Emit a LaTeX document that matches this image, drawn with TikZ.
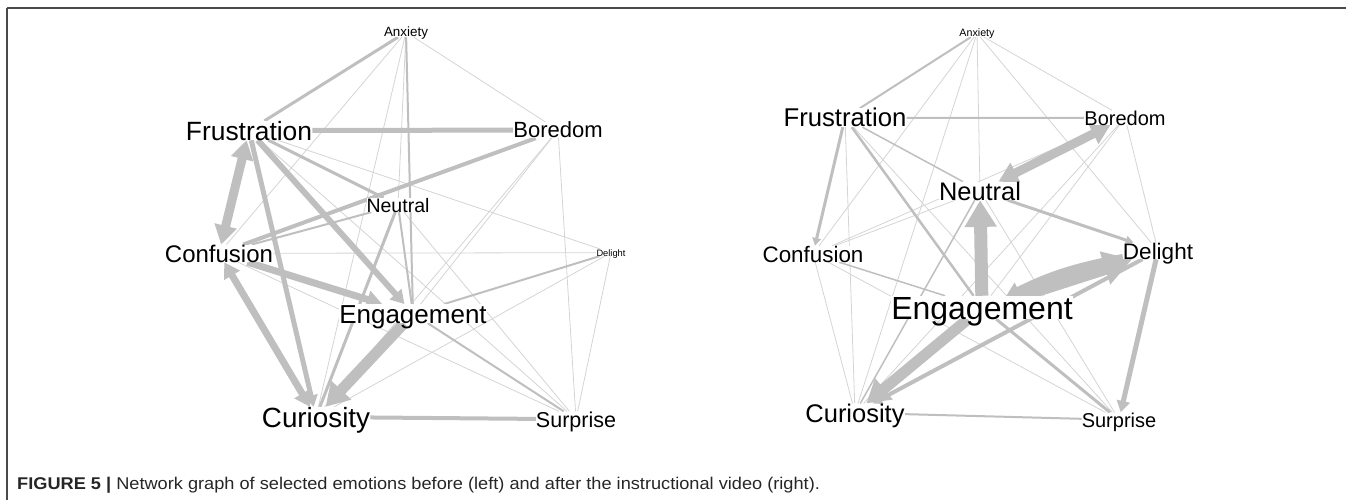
\documentclass[tikz,border=0pt]{standalone}
\usepackage{fontspec}
\setmainfont{Liberation Sans}
\newfontfamily\capfont[FakeStretch=1.07]{Liberation Sans}
\usetikzlibrary{arrows.meta}
\definecolor{linkgray}{HTML}{BFBFBF}
\definecolor{faintgray}{HTML}{D4D4D4}
\definecolor{framegray}{HTML}{4A4A4A}
\pgfdeclarelayer{back}
\pgfsetlayers{back,main}
\tikzset{
  emo/.style={font=\fontsize{#1}{#1}\selectfont, inner sep=0pt, anchor=base, fill=white,
    text height=\the\dimexpr #1pt*72/100\relax, text depth=0pt},
  link/.style={draw=linkgray, line width=#1},
  faint/.style={draw=faintgray, line width=0.8},
  headed/.style={-{Triangle[length=2pt 1.9, width=2pt 2.2]}},
  twohead/.style={{Triangle[length=2pt 1.9, width=2pt 2.2]}-{Triangle[length=2pt 1.9, width=2pt 2.2]}},
}

\begin{document}
\begin{tikzpicture}[x=1pt, y=-1pt]
\useasboundingbox (0,0) rectangle (1346,500);
\draw[framegray, line width=1.5](7,8) -- (1346,8);
\draw[framegray, line width=1.5](7,8) -- (7,500);

% before the video
\node[emo=13.4] (lan) at (406,37) {Anxiety};
\node[emo=26.4] (lfr) at (249,140) {Frustration};
\node[emo=22] (lbo) at (558,138) {Boredom};
\node[emo=19.5] (lne) at (398,212) {Neutral};
\node[emo=24] (lco) at (219,262) {Confusion};
\node[emo=9.3] (lde) at (611,256) {Delight};
\node[emo=26] (len) at (413,323) {Engagement};
\node[emo=27.8] (lcu) at (316,427) {Curiosity};
\node[emo=21.5] (lsu) at (576,427) {Surprise};

\begin{pgfonlayer}{back}
\draw[faint] (lan) -- (lco);
\draw[faint] (lan) -- (lcu);
\draw[faint] (lan) -- (lbo);
\draw[faint] (lan) -- (lne);
\draw[faint] (lfr) -- (lde);
\draw[faint] (lfr) -- (lsu);
\draw[faint] (lbo) -- (len);
\draw[faint] (lbo) -- (lcu);
\draw[faint] (lbo) -- (lsu);
\draw[faint] (lne) -- (lsu);
\draw[faint] (lco) -- (lde);
\draw[faint] (lco) -- (lsu);
\draw[faint] (lcu) -- (lde);
\draw[faint] (lsu) -- (lde);
\draw[link=3] (lan) -- (lfr);
\draw[link=2] (lan) -- (len);
\draw[link=5] (lfr) -- (lbo);
\draw[link=3] (lfr) -- (lne);
\draw[link=4] (lbo) -- (lco);
\draw[link=2] (lne) -- (lco);
\draw[link=3] (lne) -- (lcu);
\draw[link=2] (lne) -- (len);
\draw[link=2] (len) -- (lde);
\draw[link=2] (len) -- (lsu);
\draw[link=4] (lcu) -- (lsu);
\draw[link=9, twohead] (lfr) -- (lco);
\draw[link=5, headed] (lfr) -- (lcu);
\draw[link=6, headed] (lfr) -- (len);
\draw[link=7, headed] (lco) -- (len);
\draw[link=7, twohead] (lco) -- (lcu);
\draw[link=11, headed] (len) -- (lcu);
\end{pgfonlayer}

% after the video
\node[emo=10.7] (ran) at (977,37) {Anxiety};
\node[emo=25.7] (rfr) at (845,127) {Frustration};
\node[emo=20] (rbo) at (1125,125) {Boredom};
\node[emo=25.4] (rne) at (980,200) {Neutral};
\node[emo=22.4] (rco) at (813,262) {Confusion};
\node[emo=22.5] (rde) at (1158,259) {Delight};
\node[emo=32] (ren) at (982,319) {Engagement};
\node[emo=25.5] (rcu) at (855,422) {Curiosity};
\node[emo=20] (rsu) at (1119,427) {Surprise};

\begin{pgfonlayer}{back}
\draw[faint] (ran) -- (rco);
\draw[faint] (ran) -- (rne);
\draw[faint] (ran) -- (rde);
\draw[faint] (ran) -- (rbo);
\draw[faint] (ran) -- (rcu);
\draw[faint] (rfr) -- (rcu);
\draw[faint] (rfr) -- (rsu);
\draw[faint] (rbo) -- (rco);
\draw[faint] (rbo) -- (ren);
\draw[faint] (rbo) -- (rcu);
\draw[faint] (rbo) -- (rde);
\draw[faint] (rne) -- (rco);
\draw[faint] (rne) -- (rsu);
\draw[faint] (rco) -- (rcu);
\draw[faint] (rco) -- (rsu);
\draw[link=2] (ran) -- (rfr);
\draw[link=2] (rfr) -- (rbo);
\draw[link=1.5] (rfr) -- (rne);
\draw[link=2.5] (rfr) -- (ren);
\draw[link=1.5] (rne) -- (rcu);
\draw[link=1.5] (rco) -- (ren);
\draw[link=3] (ren) -- (rsu);
\draw[link=2] (rcu) -- (rsu);
\draw[link=3, headed] (rfr) -- (rco);
\draw[link=3, headed] (rne) -- (rde);
\draw[link=9, twohead] (rbo) -- (rne);
\draw[link=13, headed] (ren) -- (rne);
\draw[link=14, headed] (ren) -- (rde);
\draw[link=6, headed] (rde) to[bend right=8] (ren);
\draw[link=11, headed] (ren) -- (rcu);
\draw[link=4, headed] (rde) -- (rcu);
\draw[link=5, headed] (rde) -- (rsu);
\end{pgfonlayer}

\node[anchor=base west, inner sep=0, text=black!85, font=\capfont\fontsize{17}{17}\selectfont] (cap) at (17,489)
  {\textbf{FIGURE 5 |} Network graph of selected emotions before (left) and after the instructional video (right).};
\end{tikzpicture}
\end{document}
